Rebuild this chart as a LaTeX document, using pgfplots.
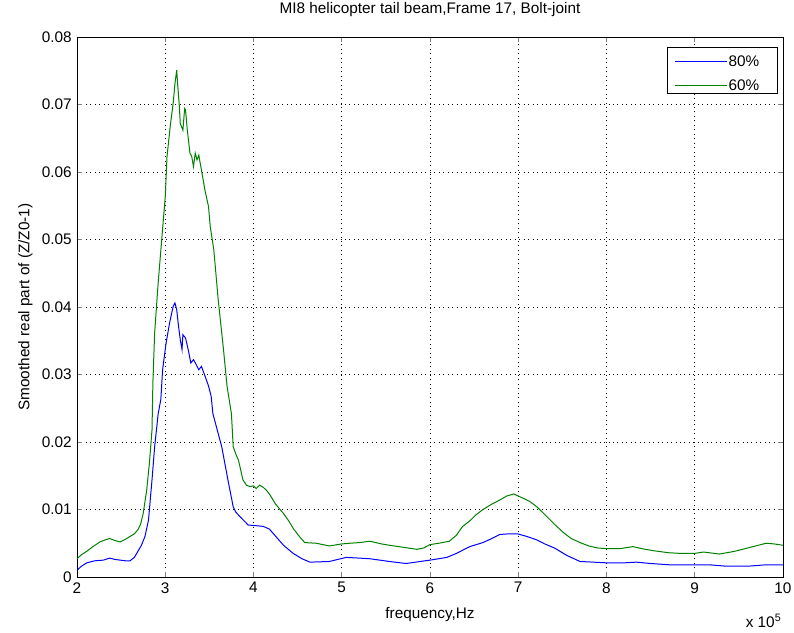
\documentclass[border=0pt]{standalone}
\usepackage{fontspec}
\setmainfont{Liberation Sans}
\usepackage{pgfplots}
\pgfplotsset{compat=1.18}
\usepackage{pgfplotstable}

\definecolor{mblue}{RGB}{0,0,255}
\definecolor{mgreen}{RGB}{0,128,0}

% 80% curve
\pgfplotstableread{
f y
2.00 0.0010
2.05 0.0016
2.11 0.0021
2.20 0.0024
2.30 0.0025
2.37 0.0028
2.43 0.0026
2.49 0.0025
2.55 0.0024
2.60 0.0024
2.65 0.0029
2.69 0.0038
2.73 0.0047
2.77 0.0060
2.81 0.0084
2.85 0.0144
2.88 0.0193
2.92 0.0242
2.95 0.0263
2.97 0.0307
3.01 0.0347
3.05 0.0377
3.09 0.0401
3.11 0.0406
3.13 0.0396
3.15 0.0372
3.17 0.0352
3.19 0.0337
3.20 0.0359
3.23 0.0354
3.26 0.0337
3.29 0.0317
3.32 0.0322
3.35 0.0315
3.38 0.0307
3.41 0.0312
3.45 0.0298
3.49 0.0283
3.52 0.0268
3.54 0.0242
3.64 0.0193
3.71 0.0144
3.77 0.0104
3.80 0.0096
3.85 0.0089
3.94 0.0077
4.03 0.0076
4.11 0.0075
4.18 0.0071
4.22 0.0065
4.28 0.0056
4.34 0.0047
4.45 0.0035
4.55 0.0027
4.64 0.0022
4.86 0.0023
5.05 0.0029
5.20 0.0028
5.32 0.0027
5.54 0.0023
5.73 0.0020
5.89 0.0023
6.00 0.0025
6.19 0.0029
6.30 0.0035
6.45 0.0045
6.60 0.0051
6.70 0.0057
6.79 0.0063
6.90 0.0064
6.99 0.0064
7.10 0.0060
7.21 0.0055
7.30 0.0049
7.41 0.0043
7.55 0.0032
7.70 0.0023
8.00 0.0021
8.20 0.0021
8.34 0.0022
8.50 0.0020
8.72 0.0018
8.95 0.0018
9.17 0.0018
9.36 0.0016
9.60 0.0016
9.80 0.0018
10.0 0.0018
}\eighty

% 60% curve
\pgfplotstableread{
f y
2.00 0.0027
2.05 0.0033
2.11 0.0038
2.18 0.0045
2.26 0.0052
2.32 0.0055
2.37 0.0057
2.43 0.0054
2.49 0.0052
2.55 0.0056
2.60 0.0060
2.65 0.0064
2.69 0.0070
2.72 0.0078
2.75 0.0094
2.79 0.0129
2.82 0.0168
2.85 0.0218
2.86 0.0288
2.88 0.0362
2.92 0.0436
2.96 0.0500
3.00 0.0563
3.02 0.0623
3.06 0.0672
3.09 0.0702
3.11 0.0731
3.13 0.0751
3.14 0.0731
3.16 0.0697
3.17 0.0672
3.20 0.0662
3.22 0.0694
3.23 0.0692
3.25 0.0662
3.28 0.0628
3.30 0.0623
3.32 0.0608
3.34 0.0628
3.36 0.0618
3.38 0.0625
3.41 0.0603
3.45 0.0573
3.49 0.0549
3.51 0.0519
3.55 0.0485
3.60 0.0411
3.66 0.0337
3.70 0.0283
3.75 0.0242
3.77 0.0193
3.80 0.0182
3.83 0.0173
3.88 0.0144
3.92 0.0136
3.96 0.0134
4.00 0.0135
4.03 0.0131
4.07 0.0136
4.11 0.0133
4.15 0.0128
4.19 0.0121
4.25 0.0108
4.34 0.0094
4.40 0.0083
4.45 0.0072
4.52 0.0060
4.58 0.0051
4.71 0.0050
4.86 0.0046
5.00 0.0049
5.09 0.0050
5.20 0.0051
5.32 0.0053
5.45 0.0049
5.54 0.0047
5.70 0.0044
5.85 0.0041
5.93 0.0043
6.00 0.0048
6.10 0.0050
6.22 0.0053
6.30 0.0062
6.37 0.0075
6.45 0.0083
6.52 0.0092
6.60 0.0100
6.70 0.0108
6.79 0.0114
6.87 0.0120
6.95 0.0123
7.00 0.0120
7.05 0.0117
7.13 0.0112
7.22 0.0103
7.32 0.0090
7.42 0.0077
7.51 0.0066
7.60 0.0057
7.70 0.0051
7.80 0.0046
7.90 0.0043
8.00 0.0042
8.15 0.0042
8.30 0.0045
8.40 0.0042
8.53 0.0039
8.70 0.0036
8.83 0.0035
9.00 0.0035
9.10 0.0037
9.28 0.0034
9.45 0.0038
9.66 0.0045
9.81 0.0050
9.90 0.0049
10.0 0.0047
}\sixty

\begin{document}
\fontsize{11.5}{13.8}\selectfont
\begin{tikzpicture}
\useasboundingbox (-57.75pt,-42pt) rectangle (537.75pt,432.75pt);
\begin{axis}[
    at={(0,0)}, anchor=south west,
    scale only axis,
    width=529.5pt, height=405pt,
    xmin=2, xmax=10, ymin=0, ymax=0.08,
    xtick={2,3,...,10},
    ytick={0,0.01,...,0.08},
    yticklabel style={/pgf/number format/fixed, /pgf/number format/precision=2},
    /pgf/number format/assume math mode=true,
    scaled y ticks=false,
    tick align=inside,
    xtick pos=both, ytick pos=both,
    major tick length=3.75pt,
    tick style={line width=0.5pt},
    axis line style={line width=0.6pt},
    grid=major,
    grid style={black, line width=0.6pt, dash pattern=on 0.75pt off 2.6pt},
    title={MI8 helicopter tail beam,Frame 17, Bolt-joint},
    title style={at={(0.5,1)}, anchor=base, yshift=12pt},
    xlabel={frequency,Hz},
    ylabel={Smoothed real part of (Z/Z0-1)},
    xlabel style={yshift=-3pt},
    ylabel style={yshift=-1pt},
]
\addplot[mblue, line width=0.75pt] table[x=f, y=y] {\eighty};
\addplot[mgreen, line width=0.75pt] table[x=f, y=y] {\sixty};
\end{axis}
% legend box, MATLAB style
\begin{scope}[shift={(current axis.north east)}]
\draw[black, fill=white, line width=0.6pt] (-87pt,-7.5pt) rectangle (-4.5pt,-42pt);
\draw[draw=blue, line width=1pt] (-81pt,-18.5pt) -- (-42pt,-18.5pt);
\draw[draw=green!50!black, line width=1pt] (-81pt,-36.5pt) -- (-42pt,-36.5pt);
\node[anchor=west, inner sep=0pt] at (-41pt,-18.5pt) {80\%};
\node[anchor=west, inner sep=0pt] at (-41pt,-36.5pt) {60\%};
\end{scope}
\node[anchor=north east, inner sep=0pt] at ([yshift=-28pt, xshift=-1pt]current axis.south east) {x 10\textsuperscript{5}};
\end{tikzpicture}
\end{document}
